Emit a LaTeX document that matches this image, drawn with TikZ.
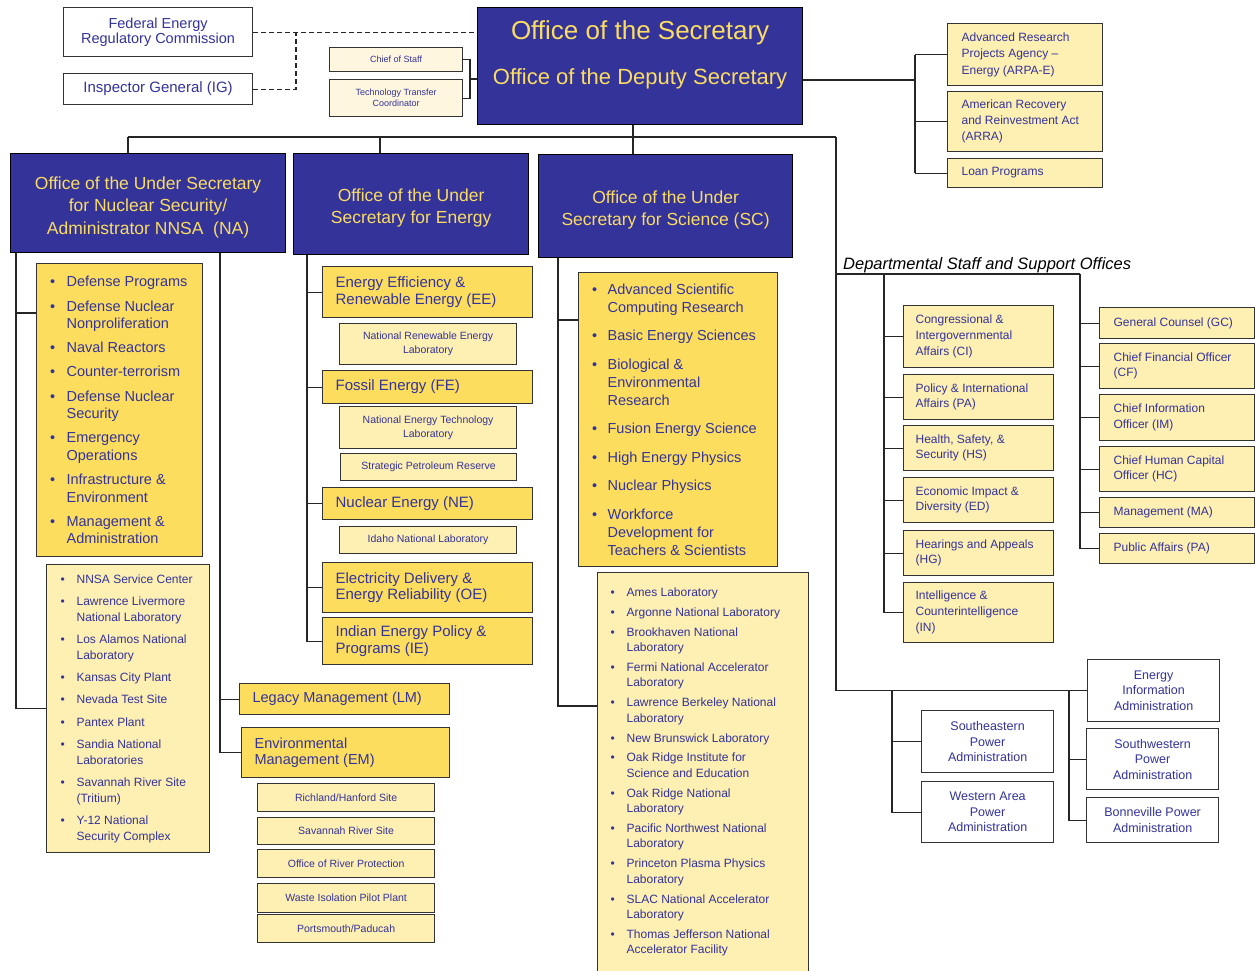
\documentclass[tikz,border=0pt]{standalone}
\usepackage{fontspec}
\setmainfont{Liberation Sans}
\definecolor{doeblue}{RGB}{51,51,153}
\definecolor{doegold}{RGB}{250,220,100}
\definecolor{ink}{RGB}{51,51,153}
\definecolor{boxgold}{RGB}{253,221,94}
\definecolor{boxpale}{RGB}{254,239,178}
\definecolor{boxcream}{RGB}{255,246,224}
\newlength\bulw
\newcommand\bitem{\par\noindent\hangindent=\bulw\hangafter=1\makebox[\bulw][l]{\textbullet}}
% height, width, item gap, items
\newcommand\blist[4]{\parbox[c][#1pt][c]{#2pt}{\raggedright\setlength\parskip{#3pt}#4\par}}
\tikzset{
  box/.style={draw=black!80, line width=1.2pt, inner sep=0pt, anchor=north west, text=ink},
  wh/.style 2 args={minimum width=#1pt, minimum height=#2pt},
  lt/.style 2 args={text width=#1pt, inner xsep=#2pt, align=flush left},
  fs/.style 2 args={font=\fontsize{#1}{#2}\selectfont},
  head/.style={box, draw=black, fill=doeblue, text=doegold, align=center, fs={17.5}{22.5}},
  gold/.style={box, fill=boxgold, fs={15}{16.5}},
  pale/.style={box, fill=boxpale, fs={12}{15.5}},
  sub/.style={box, fill=boxpale, align=center, fs={10.5}{14}},
  cream/.style={box, fill=boxcream, align=center, fs={9}{11}},
  plain/.style={box, fill=white, align=center, fs={12.5}{15.5}},
  lst/.style n args={3}{font={\fontsize{#1}{#2}\selectfont\setlength\bulw{#3pt}}},
  link/.style={draw=black!85, line width=1.2pt},
  dashlink/.style={link, dash pattern=on 5pt off 3pt},
}
\begin{document}
\begin{tikzpicture}[x=1pt, y=-1pt]
  \useasboundingbox (0,0) rectangle (1255,970);
  %%%%% TOP %%%%%
  \node[plain, wh={189}{49}, fs={14.5}{15.5}] (ferc) at (63,7) {Federal Energy\\Regulatory Commission};
  \node[plain, wh={189}{31}, fs={15}{18}] (ig) at (63,73) {Inspector General (IG)};
  \node[cream, wh={133}{24}] (cos) at (329,47) {Chief of Staff};
  \node[cream, wh={133}{37}] (ttc) at (329,79) {Technology Transfer\\Coordinator};
  \node[head, wh={325}{117}] (sec) at (477,7) {\parbox[c][117pt][t]{325pt}{\centering
      \vspace*{13.5pt}{\fontsize{26}{30}\selectfont Office of the Secretary\par}
      \vspace{15pt}{\fontsize{22}{30}\selectfont Office of the Deputy Secretary\par}}};

  \node[pale, wh={155}{62}, lt={127}{14}, fs={12}{16.5}] (arpa) at (947,23) {Advanced Research\\Projects Agency –\\Energy (ARPA-E)};
  \node[pale, wh={155}{60}, lt={127}{14}, fs={12}{16}] (arra) at (947,91) {American Recovery\\and Reinvestment Act\\(ARRA)};
  \node[pale, wh={155}{29}, lt={127}{14}] (loan) at (947,158) {Loan Programs};

  \coordinate (dj) at (296,0);
  \draw[dashlink] (ferc.east) -- (ferc.east -| sec.west);
  \draw[dashlink] (ig.east) -| (dj |- ferc.east);
  \coordinate (cj) at (470,79);
  \draw[link] (cos.east) -| (cj) |- (ttc.east);
  \draw[link] (cj) -- (cj -| sec.west);
  \coordinate (rj) at (915,80);
  \draw[link] (rj -| sec.east) -- (rj);
  \draw[link] (rj |- arpa.west) -- (rj |- loan.west);
  \foreach \n in {arpa,arra,loan}
    \draw[link] (rj |- \n.west) -- (\n.west);

  %%%%% UNDER SECRETARIES %%%%%
  \node[head, wh={275}{99}] (na) at (10,153) {\rule{0pt}{21pt}Office of the Under Secretary\\for Nuclear Security/\\Administrator NNSA~~(NA)};
  \node[head, wh={235}{101}, fs={17.5}{22}] (use) at (293,153) {\rule{0pt}{20pt}Office of the Under\\Secretary for Energy};
  \node[head, wh={254}{103}, fs={17.5}{22}] (usc) at (538,154) {\rule{0pt}{21pt}Office of the Under\\Secretary for Science (SC)};

  \coordinate (dNA) at (128,137);
  \coordinate (dEN) at (380,137);
  \coordinate (bus) at (633,137);
  \coordinate (dST) at (836,137);
  \draw[link] (bus |- sec.south) -- (bus);
  \draw[link] (dNA) -- (dST);
  \draw[link] (dNA) -- (dNA |- na.north);
  \draw[link] (dEN) -- (dEN |- use.north);
  \draw[link] (bus) -- (bus |- usc.north);

  %%%%% NNSA %%%%%
  \node[gold, wh={166}{293}, inner xsep=13.5pt, lst={14.5}{17.5}{16.5}] (defp) at (36,263) {\blist{293}{139}{6.7}{%
    \bitem Defense Programs
    \bitem Defense Nuclear\newline Nonproliferation
    \bitem Naval Reactors
    \bitem Counter-terrorism
    \bitem Defense Nuclear\newline Security
    \bitem Emergency\newline Operations
    \bitem Infrastructure \&\newline Environment
    \bitem Management \&\newline Administration}};
  \node[pale, wh={163}{288}, inner xsep=14pt, lst={12}{15.5}{16}] (nnsalab) at (46,564) {\blist{288}{135}{6.9}{%
    \bitem NNSA Service Center
    \bitem Lawrence Livermore\newline National Laboratory
    \bitem Los Alamos National\newline Laboratory
    \bitem Kansas City Plant
    \bitem Nevada Test Site
    \bitem Pantex Plant
    \bitem Sandia National\newline Laboratories
    \bitem Savannah River Site\newline (Tritium)
    \bitem Y-12 National\newline Security Complex}};
  \node[gold, wh={210}{31}, lt={184}{13}, fs={14.5}{16.5}] (lm) at (239,683) {Legacy Management (LM)};
  \node[gold, wh={208}{50}, lt={182}{13}, fs={14.5}{16.5}] (em) at (241,727) {Environmental\\Management (EM)};
  \node[sub, wh={177}{28}] (rhs) at (257,783) {Richland/Hanford Site};
  \node[sub, wh={177}{27}] (srs) at (257,817) {Savannah River Site};
  \node[sub, wh={177}{28}] (orp) at (257,849) {Office of River Protection};
  \node[sub, wh={177}{29}] (wipp) at (257,883) {Waste Isolation Pilot Plant};
  \node[sub, wh={177}{28}] (pp) at (257,914) {Portsmouth/Paducah};

  \coordinate (naL) at (16,0);
  \coordinate (naR) at (220,0);
  \draw[link] (naL |- na.south) |- (nnsalab.west);
  \draw[link] (naL |- 0,313) -- (defp.west |- 0,313);
  \draw[link] (naR |- na.south) |- (em.west);
  \draw[link] (naR |- lm.west) -- (lm.west);

  %%%%% ENERGY %%%%%
  \node[gold, wh={210}{51}, lt={184}{13}] (ee) at (322,266) {Energy Efficiency \&\\Renewable Energy (EE)};
  \node[sub, wh={177}{41}] (nrel) at (339,323) {National Renewable Energy\\Laboratory};
  \node[gold, wh={210}{33}, lt={184}{13}] (fe) at (322,370) {Fossil Energy (FE)};
  \node[sub, wh={177}{42}] (netl) at (339,406) {National Energy Technology\\Laboratory};
  \node[sub, wh={176}{27}] (spr) at (340,453) {Strategic Petroleum Reserve};
  \node[gold, wh={210}{32}, lt={184}{13}] (ne) at (322,487) {Nuclear Energy (NE)};
  \node[sub, wh={177}{27}] (inl) at (339,526) {Idaho National Laboratory};
  \node[gold, wh={210}{50}, lt={184}{13}] (oe) at (322,562) {Electricity Delivery \&\\Energy Reliability (OE)};
  \node[gold, wh={210}{47}, lt={184}{13}] (ie) at (322,617) {Indian Energy Policy \&\\Programs (IE)};

  \coordinate (enL) at (307,0);
  \draw[link] (enL |- use.south) |- (ie.west);
  \foreach \n in {ee,fe,ne,oe}
    \draw[link] (enL |- \n.west) -- (\n.west);

  %%%%% SCIENCE %%%%%
  \node[gold, wh={199}{294}, inner xsep=13.5pt, lst={14.5}{18}{15.5}] (scp) at (578,272) {\blist{294}{172}{10.5}{%
    \bitem Advanced Scientific\newline Computing Research
    \bitem Basic Energy Sciences
    \bitem Biological \&\newline Environmental\newline Research
    \bitem Fusion Energy Science
    \bitem High Energy Physics
    \bitem Nuclear Physics
    \bitem Workforce\newline Development for\newline Teachers \& Scientists}};
  \node[pale, wh={211}{399}, inner xsep=13pt, lst={12}{15.5}{16}] (sclab) at (597,572) {\blist{399}{185}{4.3}{%
    \bitem Ames Laboratory
    \bitem Argonne National Laboratory
    \bitem Brookhaven National\newline Laboratory
    \bitem Fermi National Accelerator\newline Laboratory
    \bitem Lawrence Berkeley National\newline Laboratory
    \bitem New Brunswick Laboratory
    \bitem Oak Ridge Institute for\newline Science and Education
    \bitem Oak Ridge National\newline Laboratory
    \bitem Pacific Northwest National\newline Laboratory
    \bitem Princeton Plasma Physics\newline Laboratory
    \bitem SLAC National Accelerator\newline Laboratory
    \bitem Thomas Jefferson National\newline Accelerator Facility}};

  \coordinate (scL) at (558,0);
  \draw[link] (scL |- usc.south) |- (sclab.west |- 0,706);
  \draw[link] (scL |- 0,320) -- (scp.west |- 0,320);

  %%%%% STAFF OFFICES %%%%%
  \node[anchor=base west, inner sep=0pt, font=\itshape\fontsize{16.5}{20}\selectfont] (stafft) at (843,269) {Departmental Staff and Support Offices};
  \node[pale, wh={150}{62}, lt={126}{12}, fs={12}{16}] (ci) at (903,305) {Congressional \&\\Intergovernmental\\Affairs (CI)};
  \node[pale, wh={150}{45}, lt={126}{12}] (pia) at (903,374) {Policy \& International\\Affairs (PA)};
  \node[pale, wh={150}{45}, lt={126}{12}] (hs) at (903,425) {Health, Safety, \&\\Security (HS)};
  \node[pale, wh={150}{45}, lt={126}{12}] (ed) at (903,477) {Economic Impact \&\\Diversity (ED)};
  \node[pale, wh={150}{45}, lt={126}{12}] (hg) at (903,530) {Hearings and Appeals\\(HG)};
  \node[pale, wh={150}{60}, lt={126}{12}, fs={12}{16}] (intel) at (903,582) {Intelligence \&\\Counterintelligence\\(IN)};
  \node[pale, wh={155}{31}, lt={127}{14}] (gc) at (1099,307) {General Counsel (GC)};
  \node[pale, wh={155}{45}, lt={127}{14}] (cf) at (1099,343) {Chief Financial Officer\\(CF)};
  \node[pale, wh={155}{46}, lt={127}{14}] (im) at (1099,394) {Chief Information\\Officer (IM)};
  \node[pale, wh={155}{45}, lt={127}{14}] (hc) at (1099,446) {Chief Human Capital\\Officer (HC)};
  \node[pale, wh={155}{30}, lt={127}{14}] (ma) at (1099,497) {Management (MA)};
  \node[pale, wh={155}{30}, lt={127}{14}] (pa) at (1099,533) {Public Affairs (PA)};

  \coordinate (stL) at (884,274);
  \coordinate (stR) at (1080,274);
  \draw[link] (dST |- stR) -- (stR);
  \draw[link] (stL) -- (stL |- intel.west);
  \foreach \n in {ci,pia,hs,ed,hg,intel}
    \draw[link] (stL |- \n.west) -- (\n.west);
  \draw[link] (stR) -- (stR |- pa.west);
  \foreach \n in {gc,cf,im,hc,ma,pa}
    \draw[link] (stR |- \n.west) -- (\n.west);

  %%%%% ADMINISTRATIONS %%%%%
  \node[plain, wh={132}{62}] (eia) at (1087,659) {Energy\\Information\\Administration};
  \node[plain, wh={132}{62}] (sepa) at (921,710) {Southeastern\\Power\\Administration};
  \node[plain, wh={132}{61}] (wapa) at (921,781) {Western Area\\Power\\Administration};
  \node[plain, wh={132}{61}] (swpa) at (1086,728) {Southwestern\\Power\\Administration};
  \node[plain, wh={132}{45}] (bpa) at (1086,797) {Bonneville Power\\Administration};

  \draw[link] (dST) |- (eia.west);
  \coordinate (pwL) at (892,690);
  \coordinate (pwR) at (1069,690);
  \draw[link] (pwL) |- (wapa.west);
  \draw[link] (pwL |- sepa.west) -- (sepa.west);
  \draw[link] (pwR) |- (bpa.west);
  \draw[link] (pwR |- swpa.west) -- (swpa.west);
\end{tikzpicture}
\end{document}
